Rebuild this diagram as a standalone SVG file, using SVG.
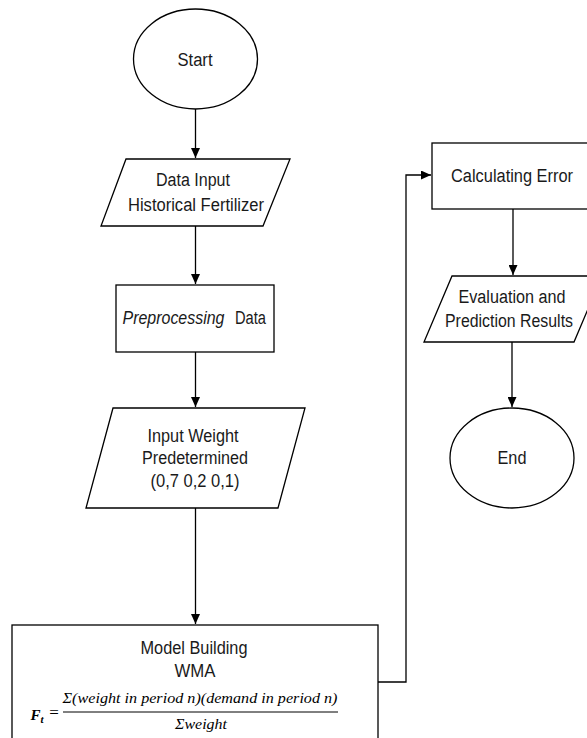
<svg xmlns="http://www.w3.org/2000/svg" width="587" height="738" viewBox="0 0 587 738">
<style>
.shape{fill:#fff;stroke:#000;stroke-width:1.3}
.conn{fill:none;stroke:#000;stroke-width:1.3}
.t{font-family:"Liberation Sans",Arial,sans-serif;font-size:18px;fill:#1a1a1a;text-anchor:middle}
.m{font-family:"Liberation Serif","Times New Roman",serif;font-style:italic;font-size:15px;fill:#000;text-anchor:middle}
</style>
<defs>
<marker id="arr" markerUnits="userSpaceOnUse" markerWidth="11" markerHeight="9" refX="10" refY="4.5" orient="auto">
<path d="M0,0 L10,4.5 L0,9 z" fill="#000"/>
</marker>
</defs>
<rect width="587" height="738" fill="#fff"/>
<g id="connectors">
<line class="conn" x1="195.5" y1="109" x2="195.5" y2="158" marker-end="url(#arr)"/>
<line class="conn" x1="195.5" y1="226" x2="195.5" y2="284" marker-end="url(#arr)"/>
<line class="conn" x1="195.5" y1="352" x2="195.5" y2="407" marker-end="url(#arr)"/>
<line class="conn" x1="195.5" y1="508" x2="195.5" y2="624" marker-end="url(#arr)"/>
<polyline class="conn" points="378,682 406,682 406,175 431,175" marker-end="url(#arr)"/>
<line class="conn" x1="513" y1="209" x2="513" y2="275" marker-end="url(#arr)"/>
<line class="conn" x1="512" y1="342" x2="512" y2="407" marker-end="url(#arr)"/>
</g>
<g id="start">
<ellipse class="shape" cx="195.5" cy="59" rx="62" ry="50"/>
<text class="t" x="195" y="66" textLength="35" lengthAdjust="spacingAndGlyphs">Start</text>
</g>
<g id="data-input">
<polygon class="shape" points="126,159 290,159 263,226 101,226"/>
<text class="t" x="193" y="186" textLength="74" lengthAdjust="spacingAndGlyphs">Data Input</text>
<text class="t" x="196" y="211" textLength="136" lengthAdjust="spacingAndGlyphs">Historical Fertilizer</text>
</g>
<g id="preprocessing">
<rect class="shape" x="116" y="285" width="158" height="67"/>
<text class="t" x="173.5" y="324" font-style="italic" textLength="102" lengthAdjust="spacingAndGlyphs">Preprocessing</text>
<text class="t" x="250.5" y="324" textLength="31" lengthAdjust="spacingAndGlyphs">Data</text>
</g>
<g id="input-weight">
<polygon class="shape" points="113,408 305,408 278,508 86,508"/>
<text class="t" x="193" y="442" textLength="91" lengthAdjust="spacingAndGlyphs">Input Weight</text>
<text class="t" x="195" y="464" textLength="106" lengthAdjust="spacingAndGlyphs">Predetermined</text>
<text class="t" x="195" y="487" textLength="89" lengthAdjust="spacingAndGlyphs">(0,7 0,2 0,1)</text>
</g>
<g id="model-building">
<rect class="shape" x="12" y="625" width="366" height="130"/>
<text class="t" x="194" y="654" textLength="107" lengthAdjust="spacingAndGlyphs">Model Building</text>
<text class="t" x="195" y="677" textLength="41" lengthAdjust="spacingAndGlyphs">WMA</text>
<text class="m" x="37" y="720" font-size="18" font-weight="bold">F<tspan font-size="11" dy="3">t</tspan></text>
<text x="54" y="718" font-family="Liberation Serif,serif" font-size="17" text-anchor="middle">=</text>
<text class="m" x="200" y="703" textLength="275" lengthAdjust="spacingAndGlyphs">Σ(weight in period n)(demand in period n)</text>
<line x1="63" y1="712" x2="338" y2="712" stroke="#000" stroke-width="1"/>
<text class="m" x="201" y="729" textLength="52" lengthAdjust="spacingAndGlyphs">Σweight</text>
</g>
<g id="calculating-error">
<rect class="shape" x="432" y="143" width="170" height="66"/>
<text class="t" x="512" y="182" textLength="122" lengthAdjust="spacingAndGlyphs">Calculating Error</text>
</g>
<g id="evaluation">
<polygon class="shape" points="452,276 602,276 574,342 424,342"/>
<text class="t" x="512" y="303" textLength="107" lengthAdjust="spacingAndGlyphs">Evaluation and</text>
<text class="t" x="509" y="327" textLength="128" lengthAdjust="spacingAndGlyphs">Prediction Results</text>
</g>
<g id="end">
<ellipse class="shape" cx="512" cy="458" rx="62" ry="50"/>
<text class="t" x="512" y="464" textLength="29" lengthAdjust="spacingAndGlyphs">End</text>
</g>
</svg>
